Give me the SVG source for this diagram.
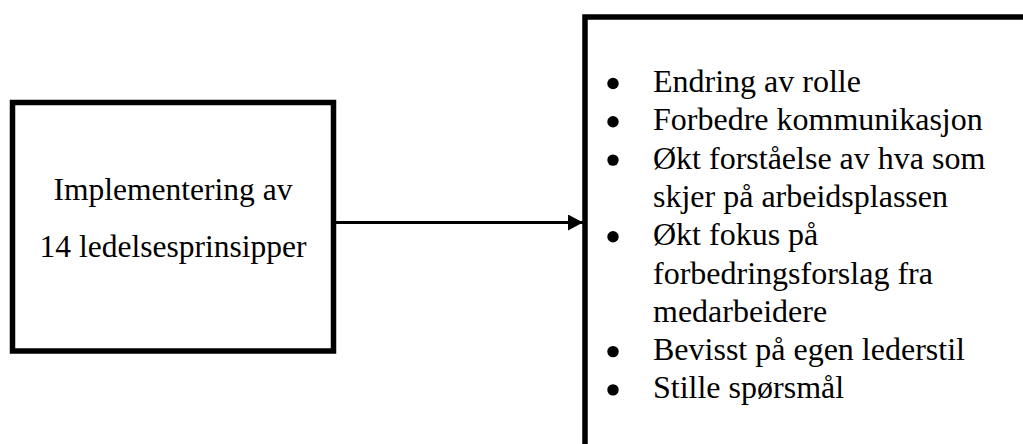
<svg xmlns="http://www.w3.org/2000/svg" width="1023" height="444" viewBox="0 0 1023 444">
  <defs>
    <style>
      .box { fill: #ffffff; stroke: #000000; stroke-width: 5.5; }
      .txt { font-family: "Liberation Serif", "Times New Roman", serif; font-size: 32px; fill: #000000; }
      .conn { stroke: #000000; stroke-width: 3; fill: none; }
      .bullet { fill: #000000; }
    </style>
    <marker id="arrow" markerWidth="15" markerHeight="16" refX="15" refY="8" orient="auto" markerUnits="userSpaceOnUse">
      <polygon points="0,0 15,8 0,16" fill="#000000"/>
    </marker>
  </defs>
  <rect width="1023" height="444" fill="#ffffff"/>
  <g id="node-implementering">
    <rect class="box" x="12.5" y="102.5" width="321" height="248.5"/>
    <text class="txt" x="173" y="200" text-anchor="middle" style="font-size:31.5px">Implementering av</text>
    <text class="txt" x="173" y="257" text-anchor="middle" style="font-size:31.5px">14 ledelsesprinsipper</text>
  </g>
  <g id="node-effekter">
    <rect class="box" x="585" y="17" width="500" height="500"/>
    <circle class="bullet" cx="613" cy="83.5" r="5.7"/>
    <circle class="bullet" cx="613" cy="121.8" r="5.7"/>
    <circle class="bullet" cx="613" cy="160.1" r="5.7"/>
    <circle class="bullet" cx="613" cy="236.7" r="5.7"/>
    <circle class="bullet" cx="613" cy="351.6" r="5.7"/>
    <circle class="bullet" cx="613" cy="389.9" r="5.7"/>
    <text class="txt" x="653" y="92">Endring av rolle</text>
    <text class="txt" x="653" y="130.3">Forbedre kommunikasjon</text>
    <text class="txt" x="653" y="168.6">Økt forståelse av hva som</text>
    <text class="txt" x="653" y="206.9">skjer på arbeidsplassen</text>
    <text class="txt" x="653" y="245.2">Økt fokus på</text>
    <text class="txt" x="653" y="283.5">forbedringsforslag fra</text>
    <text class="txt" x="653" y="321.8">medarbeidere</text>
    <text class="txt" x="653" y="360.1">Bevisst på egen lederstil</text>
    <text class="txt" x="653" y="398.4">Stille spørsmål</text>
  </g>
  <g id="connectors">
    <line class="conn" x1="336" y1="222.5" x2="583" y2="222.5" marker-end="url(#arrow)"/>
  </g>
</svg>
